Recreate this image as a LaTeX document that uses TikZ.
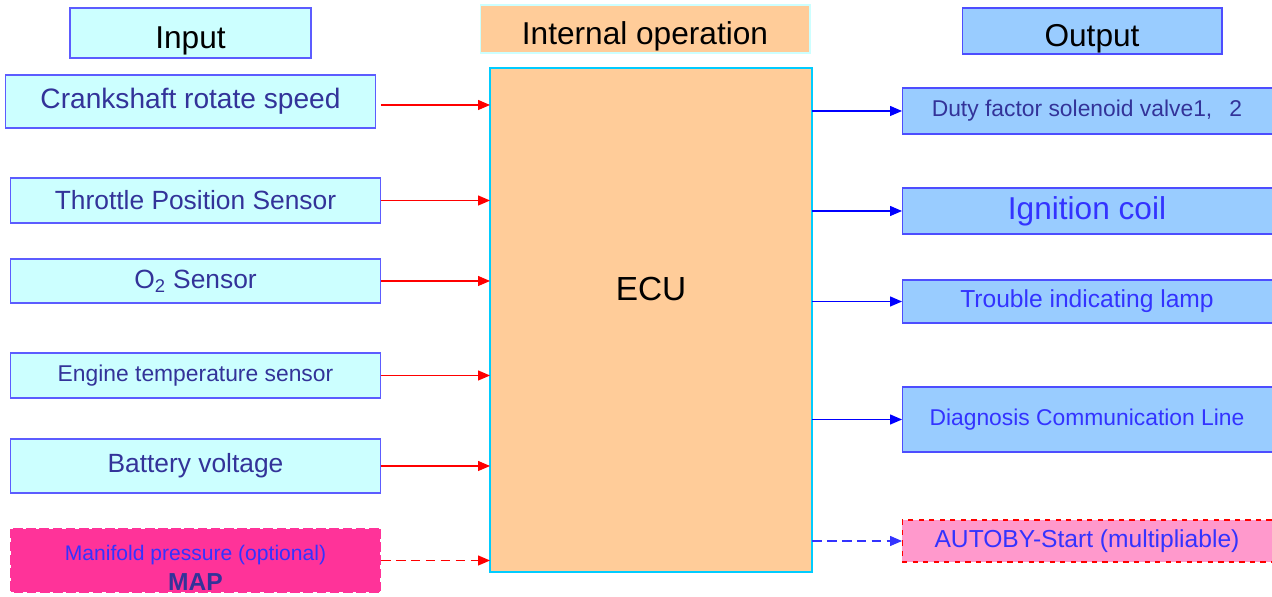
\documentclass[tikz,border=0pt]{standalone}
\usepackage{fontspec}
\setmainfont{Liberation Sans}
\usetikzlibrary{arrows.meta}

\definecolor{inFill}{HTML}{CCFFFF}
\definecolor{inDraw}{HTML}{5C5CFF}
\definecolor{inText}{HTML}{333399}
\definecolor{outFill}{HTML}{99CCFF}
\definecolor{outDraw}{HTML}{4D4DFF}
\definecolor{outText}{HTML}{3333FF}
\definecolor{ecuFill}{HTML}{FFCC99}
\definecolor{ecuDraw}{HTML}{00CCFF}
\definecolor{mapFill}{HTML}{FF3399}
\definecolor{startFill}{HTML}{FF99CC}

\newcommand{\fs}[1]{\fontsize{#1pt}{1.2\dimexpr#1pt\relax}\selectfont}

\begin{document}
\begin{tikzpicture}[x=0.02cm, y=-0.02cm,
    box/.style={draw, inner sep=0pt, outer sep=0pt, line width=0.6pt},
    headbox/.style={box, text=black, font=\fs{18}, text height=0.62cm, text depth=0pt},
    inbox/.style={box, fill=inFill, draw=inDraw, text=inText, minimum width=7.42cm},
    outbox/.style={box, fill=outFill, draw=outDraw, text=outText, minimum width=7.6cm},
    inarrow/.style={red, line width=0.7pt, -{Triangle[length=0.24cm, width=0.2cm]}},
    outarrow/.style={blue, line width=0.7pt, -{Triangle[length=0.24cm, width=0.2cm]}}]
            \useasboundingbox (0,0) rectangle (1272,597);
            \clip (0,0) rectangle (1272,597);

            % Headers
            \node[headbox, fill=inFill, draw=inDraw, minimum width=4.82cm, minimum height=1cm] (inhead) at (190.5,33) {Input};
            \node[headbox, fill=ecuFill, draw=inFill, minimum width=6.6cm, minimum height=0.96cm] (ophead) at (645,29) {Internal operation};
            \node[headbox, fill=outFill, draw=outDraw, minimum width=5.2cm, minimum height=0.92cm] (outhead) at (1092,31) {Output};

            % ECU
            \node[box, fill=ecuFill, draw=ecuDraw, line width=1pt, minimum width=6.44cm, minimum height=10.08cm] (ecu) at (651,320) {};
            \node[font=\fs{19}] (ecutext) at (651,289) {ECU};

            % Inputs
            \node[inbox, minimum height=1.06cm, font=\fs{16}] (crank) at (190.5,101.5) {Crankshaft rotate speed};
            \node[inbox, minimum height=0.9cm, font=\fs{15}] (throttle) at (195.5,200.5) {Throttle Position Sensor};
            \node[inbox, minimum height=0.88cm, font=\fs{15}] (otwo) at (195.5,281) {O\textsubscript{2} Sensor};
            \node[inbox, minimum height=0.9cm, font=\fs{13}] (engine) at (195.5,375.5) {Engine temperature sensor};
            \node[inbox, minimum height=1.08cm, font=\fs{15}] (battery) at (195.5,466) {Battery voltage};
            \node[inbox, fill=mapFill, draw=white, dash pattern=on 2pt off 5.5pt, line width=1.2pt, minimum height=1.3cm] (map) at (195.5,560.5) {};
            \node[align=center, text=outText, inner sep=0pt] (maptext) at (195.5,567.5)
                {\fs{12}Manifold pressure (optional)\\[4pt] {\color{inText}\bfseries\fs{14}MAP}};

            % Outputs
            \node[outbox, minimum height=0.92cm, font=\fs{13}, text=inText] (duty) at (1092,111) {Duty factor solenoid valve1,\hspace{0.75em}2\kern0.2cm};
            \node[outbox, minimum height=0.92cm, font=\fs{18}] (ignition) at (1092,211) {Ignition coil\kern0.2cm};
            \node[outbox, minimum height=0.86cm, font=\fs{14}] (trouble) at (1092,301.5) {Trouble indicating lamp\kern0.2cm};
            \node[outbox, minimum height=1.3cm, font=\fs{13}] (diag) at (1092,419.5) {Diagnosis Communication Line\kern0.2cm};
            \node[outbox, fill=startFill, draw=red, dashed, minimum height=0.84cm, font=\fs{14}] (autoby) at (1092,541) {AUTOBY-Start (multipliable)\kern0.2cm};

            % Connectors
            \draw[inarrow, shorten <=0.1cm] ([yshift=-0.07cm]crank.east) -- ([yshift=-0.07cm]crank.east -| ecu.west);
            \foreach \n in {throttle,otwo,engine,battery} {
                \draw[inarrow] (\n.east) -- (\n.east -| ecu.west);
            }
            \draw[inarrow, dash pattern=on 5.5pt off 3pt] (map.east) -- (map.east -| ecu.west);
            \foreach \n in {duty,ignition,trouble,diag} {
                \draw[outarrow] (\n.west -| ecu.east) -- (\n.west);
            }
            \draw[outarrow, draw=outText, dash pattern=on 5.5pt off 3pt] (autoby.west -| ecu.east) -- (autoby.west);
            \end{tikzpicture}
\end{document}
